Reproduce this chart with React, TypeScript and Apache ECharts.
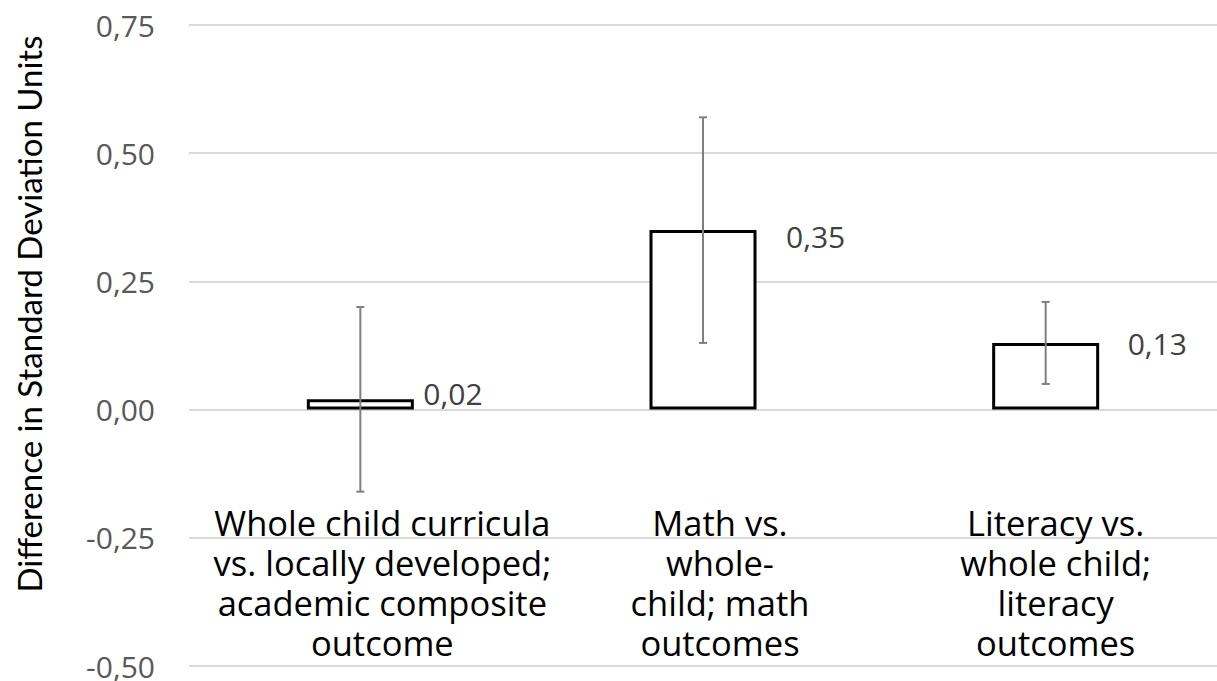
import React, { useEffect, useRef } from "react";
import * as echarts from "echarts";

const categories = [
  "Whole child curricula\nvs. locally developed;\nacademic composite\noutcome",
  "Math vs.\nwhole-\nchild; math\noutcomes",
  "Literacy vs.\nwhole child;\nliteracy\noutcomes",
];
const values = [0.02, 0.35, 0.13];
const errorLow = [-0.16, 0.13, 0.05];
const errorHigh = [0.2, 0.57, 0.21];
const yTicks = { min: -0.5, max: 0.75, interval: 0.25 };
const yTitle = "Difference in Standard Deviation Units";

const fmt = (v: number) => {
  const r = Math.round(v * 100) / 100;
  return r.toFixed(2).replace(".", ",");
};

export default function App() {
  const ref = useRef<HTMLDivElement>(null);
  useEffect(() => {
    if (!ref.current) return;
    const chart = echarts.init(ref.current, undefined, { renderer: "svg" });
    const barWidth = 107;
    const labelShift = [22, 17, 10];
    const valueLabelOffsets = [
      [63, -6],
      [83, 6],
      [82, 1],
    ];
    const rich: any = {};
    labelShift.forEach((s, i) => {
      rich["c" + i] = {
        fontFamily: "Open Sans",
        fontSize: 34.5,
        lineHeight: 40,
        color: "#000",
        padding: [0, 0, 0, s * 2],
      };
    });
    chart.setOption({
      animation: false,
      backgroundColor: "#fff",
      grid: { left: 189, right: 0, top: 25, bottom: 13, containLabel: false },
      xAxis: {
        type: "category",
        data: categories,
        axisLine: { show: false },
        axisTick: { show: false },
        splitLine: { show: false },
        axisLabel: {
          inside: true,
          margin: 4,
          interval: 0,
          formatter: (val: string, idx: number) =>
            val
              .split("\n")
              .map((l) => `{c${idx}|${l}}`)
              .join("\n"),
          rich,
        },
      },
      yAxis: {
        type: "value",
        min: yTicks.min,
        max: yTicks.max,
        interval: yTicks.interval,
        axisLine: { show: false },
        axisTick: { show: false },
        splitLine: { lineStyle: { color: "#d9d9d9", width: 2 } },
        axisLabel: {
          formatter: (v: number) => fmt(v),
          color: "#595959",
          fontFamily: "Open Sans",
          fontSize: 30,
          margin: 34,
        },
      },
      graphic: [
        {
          type: "text",
          x: 28.5,
          y: 314,
          rotation: Math.PI / 2,
          style: {
            text: yTitle,
            fontFamily: "Lato",
            fontSize: 33,
            fill: "#000",
            align: "center",
            verticalAlign: "middle",
          },
        },
      ],
      series: [
        {
          type: "bar",
          data: values,
          barWidth,
          itemStyle: { color: "#fff", borderColor: "#000", borderWidth: 3 },
          z: 2,
        },
        {
          type: "custom",
          z: 3,
          data: values.map((_, i) => [i, errorLow[i], errorHigh[i]]),
          renderItem: (params: any, api: any) => {
            const i = api.value(0);
            const lo = api.coord([i, api.value(1)]);
            const hi = api.coord([i, api.value(2)]);
            const cap = 4;
            const style = { stroke: "#7f7f7f", lineWidth: 2 };
            return {
              type: "group",
              children: [
                { type: "line", shape: { x1: lo[0], y1: lo[1], x2: hi[0], y2: hi[1] }, style },
                { type: "line", shape: { x1: lo[0] - cap, y1: lo[1], x2: lo[0] + cap, y2: lo[1] }, style },
                { type: "line", shape: { x1: hi[0] - cap, y1: hi[1], x2: hi[0] + cap, y2: hi[1] }, style },
              ],
            };
          },
        },
        {
          type: "custom",
          z: 4,
          data: values.map((v, i) => [i, v]),
          renderItem: (params: any, api: any) => {
            const i = api.value(0);
            const v = api.value(1);
            const p = api.coord([i, v]);
            const off = valueLabelOffsets[i];
            return {
              type: "text",
              x: p[0] + off[0],
              y: p[1] + off[1],
              style: {
                text: fmt(v),
                fontFamily: "Open Sans",
                fontSize: 30,
                fill: "#404040",
                align: "left",
                verticalAlign: "middle",
              },
            };
          },
        },
      ],
    });
    return () => chart.dispose();
  }, []);
  return (
    <div
      ref={ref}
      style={{ position: "absolute", left: 0, top: 0, width: 1217, height: 681 }}
    />
  );
}
